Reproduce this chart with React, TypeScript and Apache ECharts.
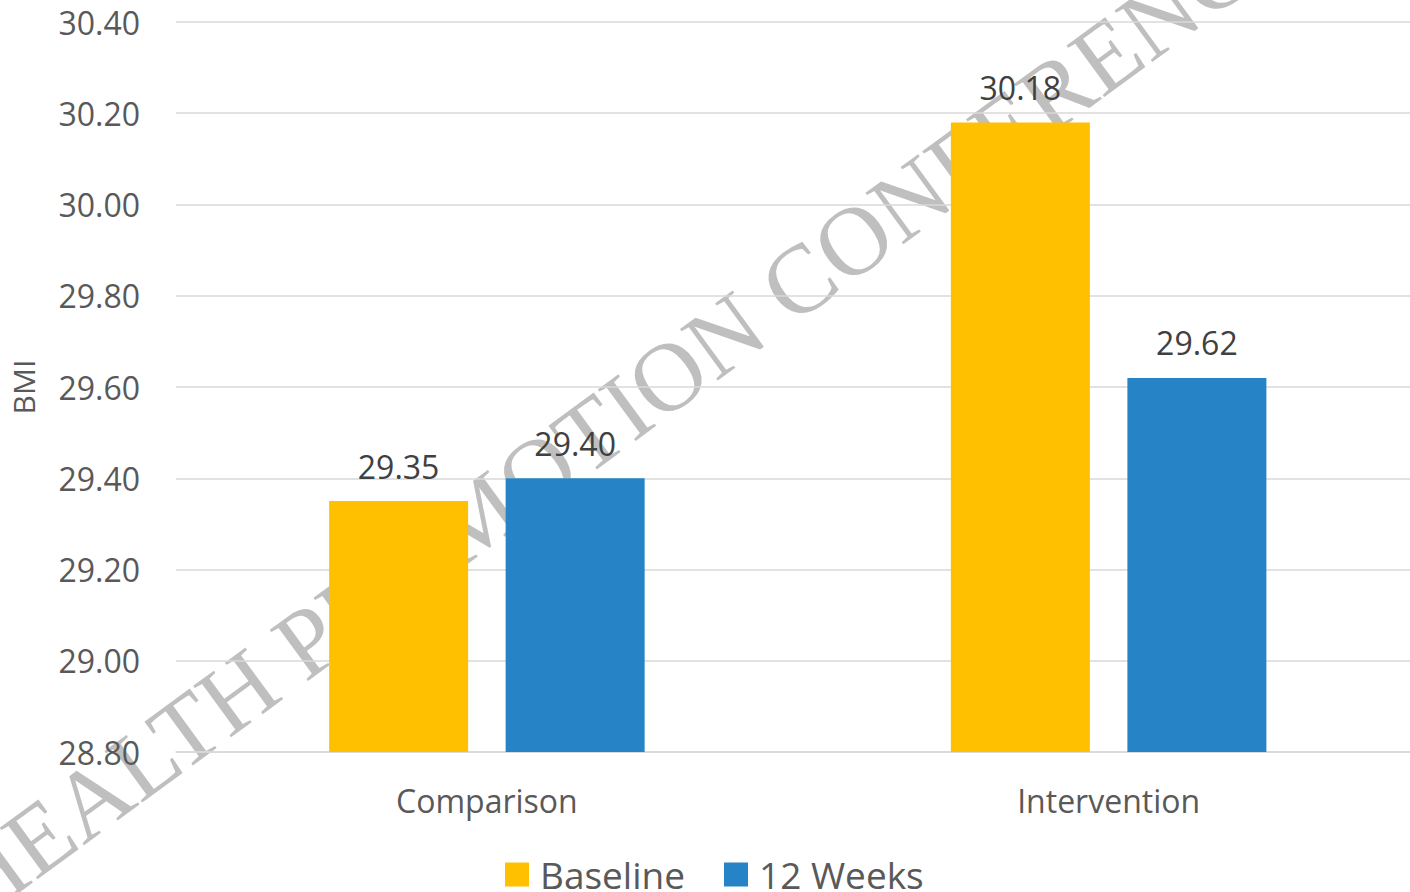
import React, { useEffect, useRef } from "react";
import * as echarts from "echarts";

const categories = ["Comparison", "Intervention"];
const seriesNames = ["Baseline", "12 Weeks"];
const baselineValues = [29.35, 30.18];
const weeks12Values = [29.4, 29.62];
const yMin = 28.8;
const yMax = 30.4;
const yInterval = 0.2;
const watermarkText = "HEALTH PROMOTION CONFERENCE";

const FONT = '"Open Sans", "Noto Sans", sans-serif';

export default function App() {
  const ref = useRef<HTMLDivElement>(null);
  useEffect(() => {
    if (!ref.current) return;
    const chart = echarts.init(ref.current, null, { renderer: "svg" });
    const angle = (36.25 * Math.PI) / 180;
    const labelOpts = {
      show: true,
      position: "top",
      distance: 19,
      fontFamily: FONT,
      fontSize: 32,
      color: "#404040",
      formatter: (p: any) => Number(p.value).toFixed(2),
    };
    chart.setOption({
      animation: false,
      backgroundColor: "#ffffff",
      textStyle: { fontFamily: FONT },
      graphic: {
        elements: [
          {
            type: "text",
            x: -41,
            y: 896,
            rotation: angle,
            z: -10,
            silent: true,
            style: {
              text: watermarkText,
              font: '97.5px "Liberation Serif", "DejaVu Serif", serif',
              fill: "#BFBFBF",
              align: "left",
              verticalAlign: "middle",
              textAlign: "left",
              textVerticalAlign: "middle",
            },
          },
        ],
      },
      grid: { left: 175.5, right: 0.5, top: 22, bottom: 140, containLabel: false },
      legend: {
        data: seriesNames,
        left: 505,
        top: 856,
        padding: 0,
        itemWidth: 24,
        itemHeight: 24,
        itemGap: 39,
        icon: "rect",
        textStyle: {
          fontFamily: FONT,
          fontSize: 37,
          lineHeight: 34,
          color: "#595959",
          padding: [0, 0, 0, 6],
        },
      },
      xAxis: {
        type: "category",
        data: categories,
        axisTick: { show: false },
        axisLine: { lineStyle: { color: "#D9D9D9", width: 1.5 } },
        axisLabel: { fontFamily: FONT, fontSize: 32, color: "#595959", margin: 32 },
      },
      yAxis: {
        type: "value",
        min: yMin,
        max: yMax,
        interval: yInterval,
        name: "BMI",
        nameLocation: "middle",
        nameGap: 138,
        nameTextStyle: { fontFamily: FONT, fontSize: 30, color: "#595959" },
        axisLine: { show: false },
        axisTick: { show: false },
        splitLine: { lineStyle: { color: "#D9D9D9", width: 1.5 } },
        axisLabel: {
          fontFamily: FONT,
          fontSize: 32,
          color: "#595959",
          margin: 36,
          formatter: (v: number) => v.toFixed(2),
        },
      },
      series: [
        {
          name: seriesNames[0],
          type: "bar",
          data: baselineValues,
          barWidth: 139,
          barGap: "27%",
          z: 2,
          itemStyle: { color: "#FFC000" },
          label: labelOpts,
        },
        {
          name: seriesNames[1],
          type: "bar",
          data: weeks12Values,
          barWidth: 139,
          barGap: "27%",
          z: 2,
          itemStyle: { color: "#2683C6" },
          label: labelOpts,
        },
      ],
    });
    return () => chart.dispose();
  }, []);
  return (
    <div
      ref={ref}
      style={{ position: "fixed", left: 0, top: 0, width: 1420, height: 892 }}
    />
  );
}
